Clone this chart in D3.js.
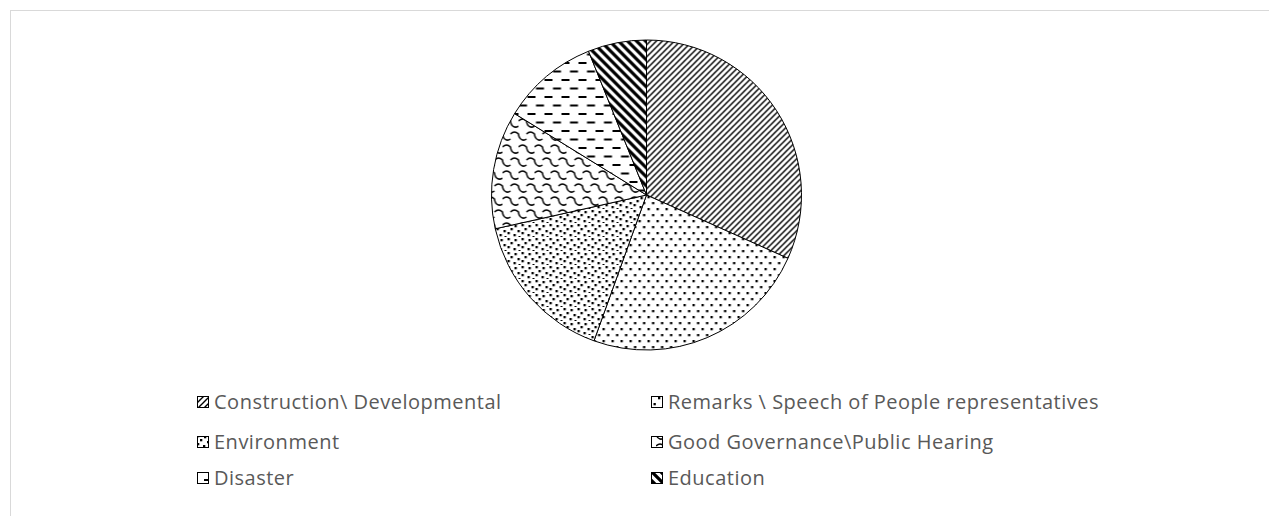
<!DOCTYPE html>
<html><head><meta charset="utf-8">
<script src="https://cdn.jsdelivr.net/npm/d3@7"></script>
<style>body{margin:0;background:#fff;} svg{display:block;}</style>
</head><body>
<svg id="c" width="1269" height="516"></svg>
<script>
const categories = ["Construction\\ Developmental","Remarks \\ Speech of People representatives","Environment","Good Governance\\Public Hearing","Disaster","Education"];
const values = [31.7, 23.8, 16.0, 12.3, 10.1, 6.1];
const patternIds = ["pConstr","pRemarks","pEnv","pGov","pDis","pEdu"];

const svg = d3.select("#c");
const W = 1269, H = 516;
svg.append("rect").attr("x",10.5).attr("y",10.5).attr("width",W).attr("height",H).attr("fill","#fff").attr("stroke","#d9d9d9").attr("stroke-width",1);

const defs = svg.append("defs");
function pat(id,w,h){ const p = defs.append("pattern").attr("id",id).attr("patternUnits","userSpaceOnUse").attr("width",w).attr("height",h); p.append("rect").attr("width",w).attr("height",h).attr("fill","#fff"); return p; }
// Construction: fine upward diagonal
let p = pat("pConstr",6,6);
p.append("path").attr("d","M-1,1 L1,-1 M0,6 L6,0 M5,7 L7,5").attr("stroke","#000").attr("stroke-width",1.4);
// Remarks: staggered dot grid
p = pat("pRemarks",9,12);
p.append("rect").attr("x",1).attr("y",1).attr("width",2.3).attr("height",2.3).attr("fill","#000");
p.append("rect").attr("x",5.5).attr("y",7).attr("width",2.3).attr("height",2.3).attr("fill","#000");
// Environment: scattered dots
p = pat("pEnv",14,14);
[[1,1],[8,2],[4,5],[11,7],[1,9],[7,11],[12,13]].forEach(d=>p.append("rect").attr("x",d[0]).attr("y",d[1]).attr("width",2.3).attr("height",2.3).attr("fill","#000"));
// Good Governance: shingle
p = pat("pGov",16,26);
const sh = "M0,4 Q4,0 8,4 Q8.5,9 12,10 Q14,10.5 16,9";
p.append("path").attr("d",sh).attr("fill","none").attr("stroke","#000").attr("stroke-width",1.5);
p.append("path").attr("d",sh).attr("transform","translate(8,13)").attr("fill","none").attr("stroke","#000").attr("stroke-width",1.5);
p.append("path").attr("d",sh).attr("transform","translate(-8,13)").attr("fill","none").attr("stroke","#000").attr("stroke-width",1.5);
p.append("path").attr("d",sh).attr("transform","translate(0,26)").attr("fill","none").attr("stroke","#000").attr("stroke-width",1.5);
p.append("path").attr("d",sh).attr("transform","translate(8,-13)").attr("fill","none").attr("stroke","#000").attr("stroke-width",1.5);
p.append("path").attr("d",sh).attr("transform","translate(-8,-13)").attr("fill","none").attr("stroke","#000").attr("stroke-width",1.5);
// Disaster: staggered dashes
p = pat("pDis",17,17);
p.append("rect").attr("x",0).attr("y",3).attr("width",8).attr("height",2).attr("fill","#000");
p.append("rect").attr("x",8.5).attr("y",11.5).attr("width",8).attr("height",2).attr("fill","#000");
// Education: wide downward diagonal
p = pat("pEdu",9,9);
p.append("path").attr("d","M-2,-2 L11,11 M-2,7 L2,11 M7,-2 L11,2").attr("stroke","#000").attr("stroke-width",3.2);

const cx = 646.5, cy = 195, r = 155;
const pie = d3.pie().sort(null).value(d=>d)(values);
const arc = d3.arc().innerRadius(0).outerRadius(r);
const g = svg.append("g").attr("transform",`translate(${cx},${cy})`);
g.selectAll("path").data(pie).join("path").attr("d",arc)
  .attr("fill",(d,i)=>`url(#${patternIds[i]})`).attr("stroke","#000").attr("stroke-width",1);

// Legend
const colX = [197, 651];
const rowY = [402, 442, 478];
const lg = svg.append("g");
categories.forEach((c,i)=>{
  const col = i%2, row = Math.floor(i/2);
  const x = colX[col], y = rowY[row];
  lg.append("rect").attr("x",x+0.5).attr("y",y-5.5).attr("width",11).attr("height",11)
    .attr("fill",`url(#${patternIds[i]})`).attr("stroke","#000").attr("stroke-width",1);
  lg.append("text").attr("x",x+17).attr("y",y).attr("dy","0.35em")
    .attr("font-family","'Open Sans', sans-serif").attr("font-size",20).attr("letter-spacing",0.5).attr("fill","#595959").text(c);
});
</script>
</body></html>
